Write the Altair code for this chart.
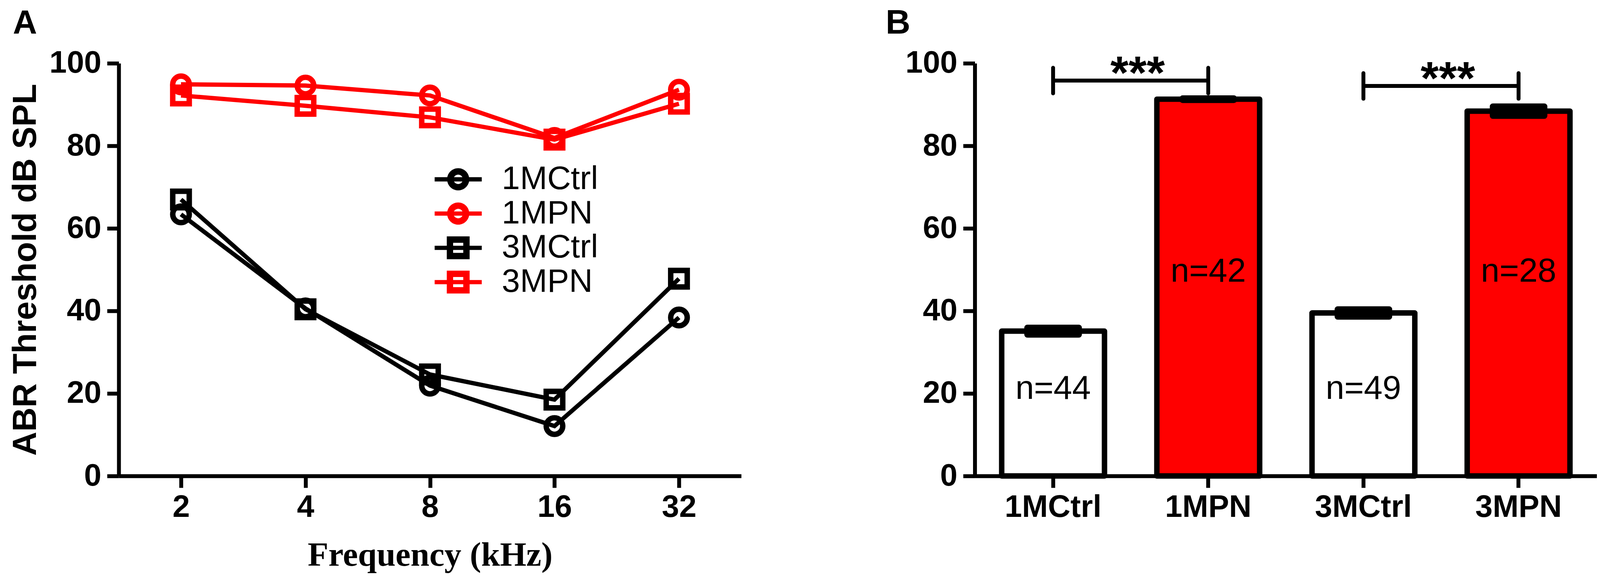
import altair as alt
import pandas as pd

# ---------------- Panel A data (ABR threshold vs frequency)
freqs = [2, 4, 8, 16, 32]
series_names = ["1MCtrl", "1MPN", "3MCtrl", "3MPN"]
abr_1MCtrl = [63.4, 40.6, 21.9, 12.1, 38.4]
abr_1MPN = [94.9, 94.6, 92.2, 81.9, 93.6]
abr_3MCtrl = [67.0, 40.4, 24.6, 18.5, 47.8]
abr_3MPN = [92.2, 89.7, 86.9, 81.5, 90.2]
series_colors = ["#000000", "#ff0000", "#000000", "#ff0000"]
series_shapes = ["circle", "circle", "square", "square"]

# ---------------- Panel B data (mean threshold per group)
groups = ["1MCtrl", "1MPN", "3MCtrl", "3MPN"]
group_means = [35.1, 91.3, 39.5, 88.4]
group_sems = [1.2, 0.55, 1.25, 1.5]
group_fills = ["#ffffff", "#ff0000", "#ffffff", "#ff0000"]
n_labels = ["n=44", "n=42", "n=49", "n=28"]
n_label_at = [18.7, 47.1, 18.7, 47.1]

sig_from = ["1MCtrl", "3MCtrl"]
sig_to = ["1MPN", "3MPN"]
sig_level = [95.8, 94.5]
sig_marks = ["***", "***"]

y_ticks = [0, 20, 40, 60, 80, 100]

# ---------------- tables
series_values = [abr_1MCtrl, abr_1MPN, abr_3MCtrl, abr_3MPN]
dfA = pd.DataFrame(
    [{"series": s, "freq": f, "thr": v}
     for s, vals in zip(series_names, series_values)
     for f, v in zip(freqs, vals)]
)
dfB = pd.DataFrame({"group": groups, "mean": group_means, "sem": group_sems,
                    "label": n_labels, "at": n_label_at})
dfSig = pd.DataFrame({"from": sig_from, "to": sig_to, "level": sig_level, "stars": sig_marks})
dfEnds = pd.DataFrame({"pos": sig_from + sig_to, "level": sig_level + sig_level})

SANS = "Liberation Sans"
SERIF = "Liberation Serif"

# legend symbols: line through a ring / hollow square (filled paths, nonzero winding)
CIRC_PATH = ("M-2,-0.18L2,-0.18L2,0.18L-2,0.18Z"
             "M0.94,0A0.94,0.94,0,1,1,-0.94,0A0.94,0.94,0,1,1,0.94,0Z"
             "M0.40,0A0.40,0.40,0,1,0,-0.40,0A0.40,0.40,0,1,0,0.40,0Z")
SQ_PATH = ("M-2,-0.18L2,-0.18L2,0.18L-2,0.18Z"
           "M-0.97,-0.97L0.97,-0.97L0.97,0.97L-0.97,0.97Z"
           "M-0.43,-0.43L-0.43,0.43L0.43,0.43L0.43,-0.43Z")

# ---------------- Panel A
yscale = alt.Scale(domain=[0, 100], nice=False)
yaxisA = alt.Axis(values=y_ticks, title="ABR Threshold dB SPL", titleFont=SANS,
                  titleFontSize=86, titleFontWeight="bold", titlePadding=17,
                  labelPadding=15)
xA = alt.X("freq:O", sort=freqs, scale=alt.Scale(type="point", padding=0.5),
           axis=alt.Axis(title="Frequency (kHz)", labelAngle=0, titleFont=SERIF,
                         titleFontSize=87, titleFontWeight="bold", titlePadding=40,
                         labelPadding=12))
yA = alt.Y("thr:Q", scale=yscale, axis=yaxisA)
color_sc = alt.Scale(domain=series_names, range=series_colors)

linesA = alt.Chart(dfA).mark_line(strokeWidth=11).encode(
    x=xA, y=yA,
    color=alt.Color("series:N", scale=color_sc, legend=None),
    detail="series:N",
)
pointsA = alt.Chart(dfA).mark_point(filled=False, strokeWidth=14, size=1800, opacity=1).encode(
    x=xA, y=yA,
    color=alt.Color("series:N", scale=color_sc, legend=None),
    shape=alt.Shape("series:N", scale=alt.Scale(domain=series_names, range=series_shapes), legend=None),
)
leg = alt.Legend(title=None, orient="none", legendX=830, legendY=256, padding=0,
                 labelFont=SANS, labelFontSize=84, labelColor="black", labelLimit=1000,
                 labelOffset=70, rowPadding=4, symbolOpacity=1, symbolStrokeWidth=0,
                 symbolSize=3660)
legendA = alt.Chart(dfA).mark_point(filled=True, size=3660, opacity=0).encode(
    x=xA, y=yA,
    color=alt.Color("series:N", scale=color_sc, legend=leg),
    shape=alt.Shape("series:N", scale=alt.Scale(domain=series_names,
                                                range=[CIRC_PATH, CIRC_PATH, SQ_PATH, SQ_PATH]),
                    legend=leg),
)
panelA = alt.layer(linesA, pointsA, legendA).resolve_scale(
    color="independent", shape="independent"
).properties(
    width=1599, height=1060,
    title=alt.TitleParams("A", anchor="start", frame="group", dx=-272, fontSize=86,
                          font=SANS, fontWeight="bold", color="black", offset=18),
)

# ---------------- Panel B
bscale = alt.Scale(domain=groups, paddingInner=0.3375, paddingOuter=0.1734)
xaxisB = alt.Axis(title=None, labelAngle=0, labelPadding=12)
yaxisB = alt.Axis(values=y_ticks, title=None, labelPadding=15)

def xb(field):
    return alt.X(field, type="nominal", sort=groups, scale=bscale, axis=xaxisB)

def yb(field):
    return alt.Y(field, type="quantitative", scale=yscale, axis=yaxisB)

bars = alt.Chart(dfB).mark_bar(stroke="black", strokeWidth=14, strokeJoin="round").encode(
    x=xb("group"), y=yb("mean"),
    fill=alt.Fill("group:N", scale=alt.Scale(domain=groups, range=group_fills), legend=None),
)
caps = alt.Chart(dfB).transform_calculate(
    lo="datum.mean - datum.sem", hi="datum.mean + datum.sem"
).mark_bar(color="black", stroke="black", strokeWidth=8, width=140, cornerRadius=4).encode(
    x=xb("group"), y=yb("lo"), y2="hi:Q",
)
nlab = alt.Chart(dfB).mark_text(font=SANS, fontSize=86, color="black", baseline="alphabetic").encode(
    x=xb("group"), y=yb("at"), text="label:N",
)
hbar = alt.Chart(dfSig).mark_rule(strokeWidth=10, color="black").encode(
    x=xb("from"), x2="to:N", y=yb("level"),
)
ends = alt.Chart(dfEnds).transform_calculate(
    top="datum.level + 3.1", bot="datum.level - 3.1"
).mark_rule(strokeWidth=10, color="black", strokeCap="round").encode(
    x=xb("pos"), y=yb("top"), y2="bot:Q",
)
stars = alt.Chart(dfSig).transform_calculate(
    sy="datum.level - 2.0"
).mark_text(font=SANS, fontSize=120, fontWeight="bold", color="black", dx=217,
            baseline="alphabetic").encode(
    x=xb("from"), y=yb("sy"), text="stars:N",
)
panelB = alt.layer(bars, caps, nlab, hbar, ends, stars).properties(
    width=1598, height=1060,
    title=alt.TitleParams("B", anchor="start", frame="group", dx=-229, fontSize=88,
                          font=SANS, fontWeight="bold", color="black", offset=18),
)

chart = alt.hconcat(panelA, panelB, spacing=371).properties(
    padding={"left": 14, "top": 6, "right": 0, "bottom": 0}
).configure_axis(
    domainColor="black", domainWidth=10, tickColor="black", tickWidth=10, tickSize=30,
    labelFont=SANS, labelFontWeight="bold", labelFontSize=80, labelColor="black",
    labelLimit=1000, titleColor="black", grid=False,
).configure_view(strokeWidth=0)

chart.save("out.html", embed_options={"renderer": "svg", "actions": False})
